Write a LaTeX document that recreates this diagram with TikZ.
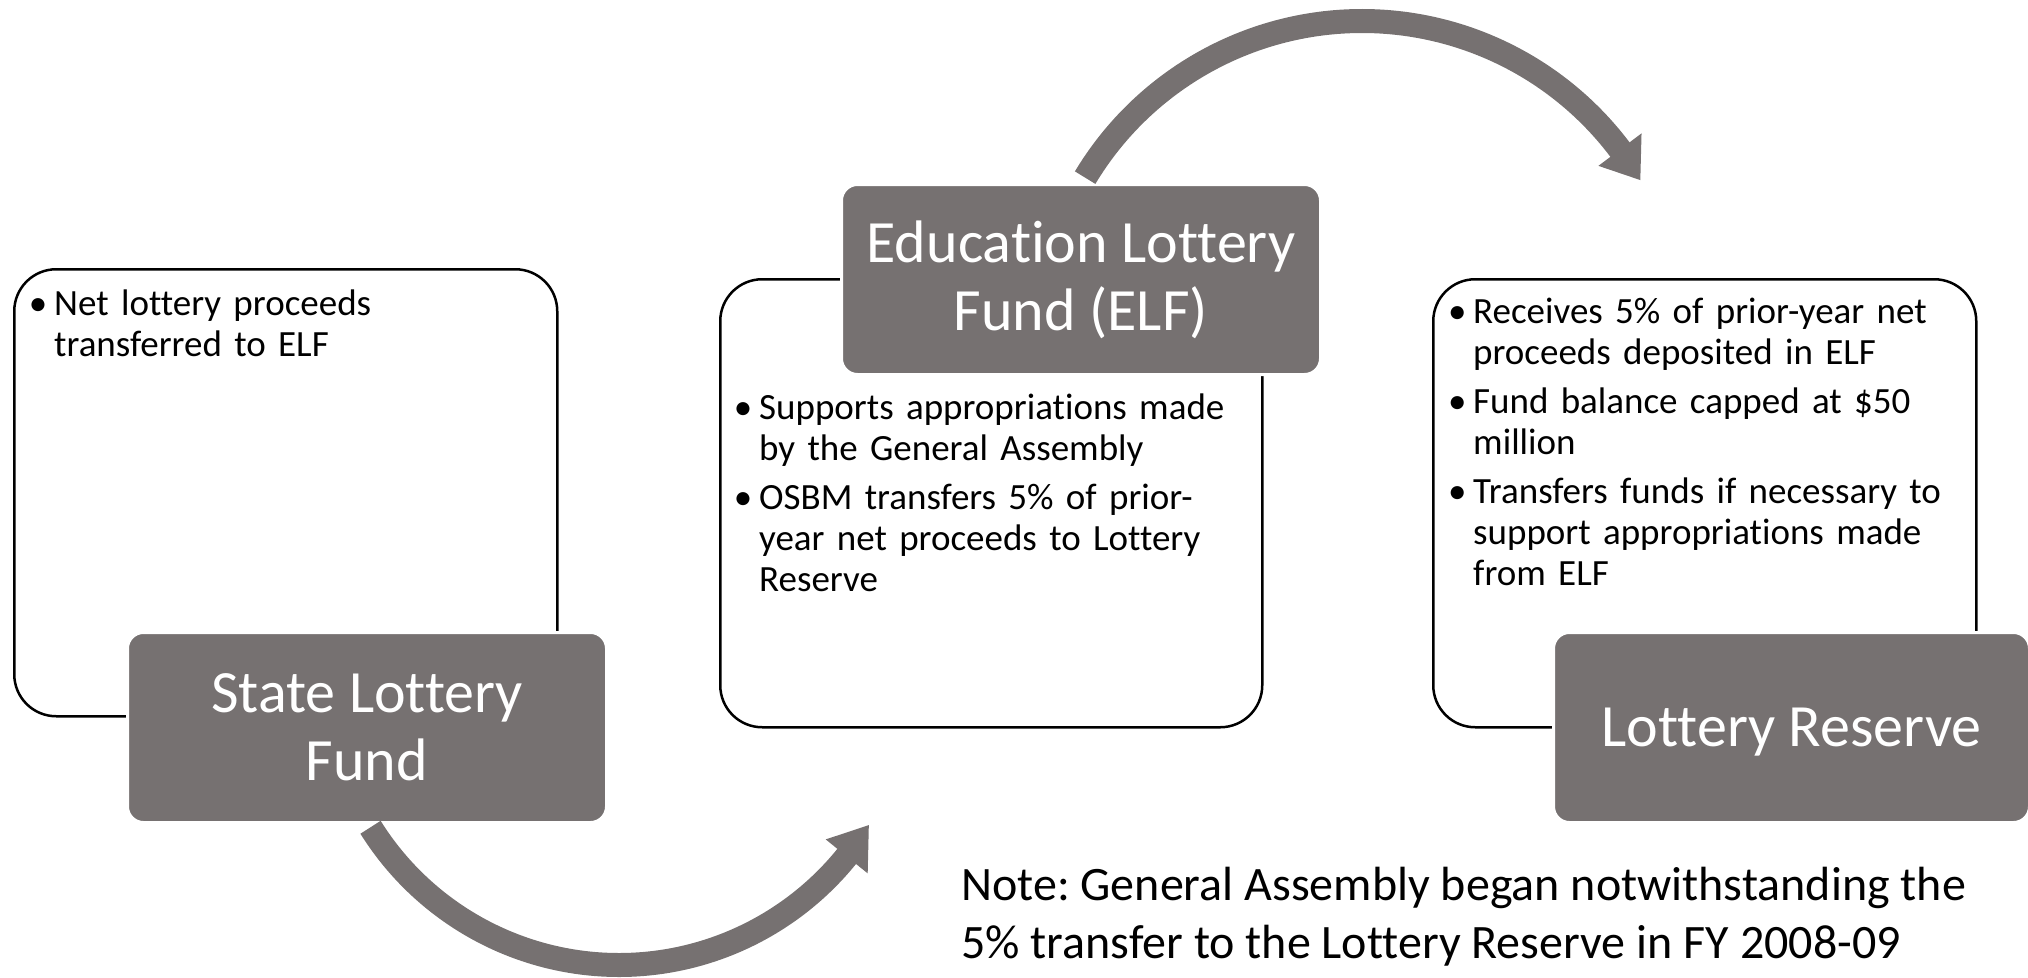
\documentclass[tikz,border=0pt]{standalone}
\usepackage{fontspec}
\setmainfont{Carlito}[Ligatures={NoCommon}, RawFeature={-calt}]
\usetikzlibrary{calc}
\definecolor{fundgray}{HTML}{767171}
\newcommand{\bul}{\llap{\makebox[32pt][c]{•}}}
\frenchspacing
\begin{document}
\begin{tikzpicture}[x=1pt,y=-1pt,
  outlinebox/.style={draw=black, line width=2.5pt, rounded corners=42pt, anchor=north west, inner sep=0pt},
  fundbox/.style={fill=fundgray, draw=white, line width=3pt, rounded corners=16pt, anchor=north west, inner sep=0pt,
    text=white, align=center, font=\fontsize{60}{68}\selectfont},
  bullettext/.style={anchor=north west, inner sep=0pt, text width=520pt, align=left,
    font=\fontsize{37}{41}\selectfont\setlength{\parskip}{8pt}},
  notetext/.style={anchor=north west, inner sep=0pt, align=left, font=\fontsize{48}{58}\selectfont},
  shaft/.style={draw=fundgray, line width=24pt},
  head/.style={fill=fundgray}
]
\useasboundingbox (0,0) rectangle (2028,977);

% outline boxes
\node[outlinebox, minimum width=543pt, minimum height=447pt] (slfout) at (13,268) {};
\node[outlinebox, minimum width=542pt, minimum height=448pt] (elfout) at (719,278) {};
\node[outlinebox, minimum width=543pt, minimum height=448pt] (lrout) at (1432,278) {};

% bullet texts
\node[bullettext] (slftxt) at (54,290) {\noindent\bul Net lottery proceeds\newline transferred to ELF};
\node[bullettext] (elftxt) at (759,394) {\noindent\bul Supports appropriations made\newline by the General Assembly\par
\noindent\bul OSBM transfers 5\% of prior-\newline year net proceeds to Lottery\newline Reserve};
\node[bullettext] (lrtxt) at (1473,298) {\noindent\bul Receives 5\% of prior-year net\newline proceeds deposited in ELF\par
\noindent\bul Fund balance capped at \$50\newline million\par
\noindent\bul Transfers funds if necessary to\newline support appropriations made\newline from ELF};

% gray title boxes
\node[fundbox, minimum width=479pt, minimum height=190pt] (slf) at (126,631) {State Lottery\\Fund};
\node[fundbox, minimum width=479pt, minimum height=190pt] (elf) at (840,183) {Education Lottery\\Fund (ELF)};
\node[fundbox, minimum width=476pt, minimum height=190pt, text depth=0pt] (lr) at (1552,631) {Lottery Reserve};

% note
\node[notetext] (note) at (961,867) {Note: General Assembly began notwithstanding the\\5\% transfer to the Lottery Reserve in FY 2008-09};

% curved arrows
\coordinate (cB) at (619,672);
\coordinate (cT) at (1362,344);
\draw[shaft] ($(cB)+(148:293)$) coordinate (bTail) arc[start angle=148, end angle=38, radius=293];
\fill[head] ($(cB)+(39:266)$) -- ($(cB)+(31.5:293)$) coordinate (bTip) -- ($(cB)+(39:320)$) -- cycle;
\draw[shaft] ($(cT)+(-149:323)$) coordinate (tTail) arc[start angle=-149, end angle=-36, radius=323];
\fill[head] ($(cT)+(-37:296)$) -- ($(cT)+(-30.5:323)$) coordinate (tTip) -- ($(cT)+(-37:350)$) -- cycle;
\end{tikzpicture}
\end{document}
